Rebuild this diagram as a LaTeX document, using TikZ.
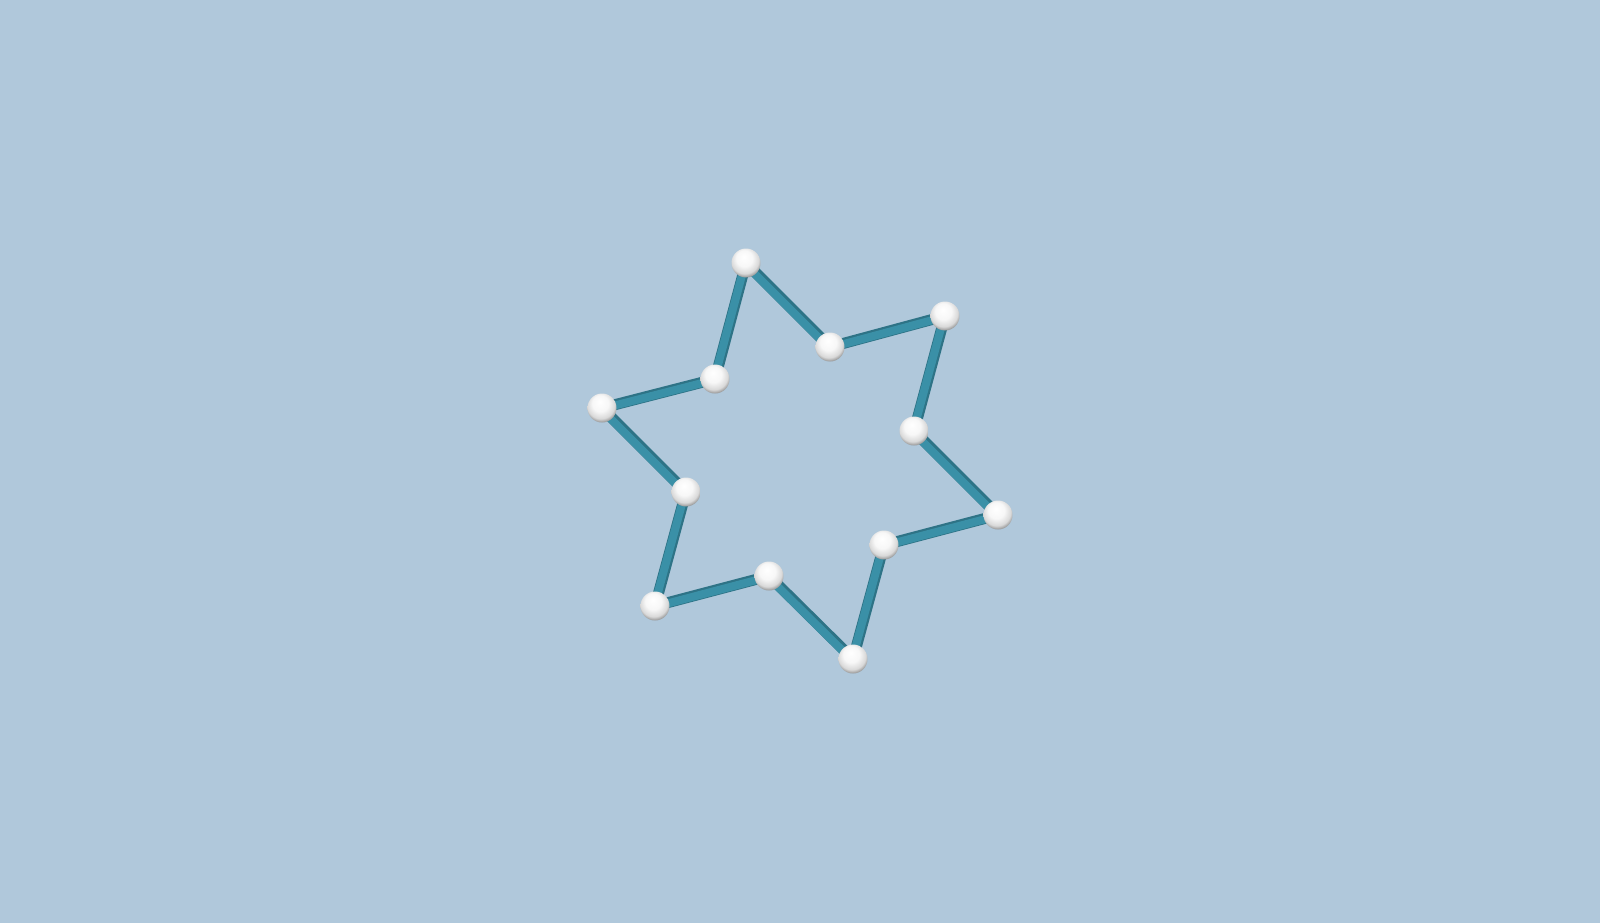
\documentclass[tikz,border=0pt]{standalone}
\usetikzlibrary{backgrounds}
\definecolor{bg}{HTML}{B0C8DB}
\definecolor{roddark}{HTML}{2E7386}
\definecolor{rodlight}{HTML}{3A90A7}
\pgfdeclareradialshading{sph}{\pgfpoint{-4bp}{11bp}}{%
  color(0bp)=(white);
  color(14bp)=(white!97!black);
  color(24bp)=(white!85!black);
  color(30bp)=(white!55!black);
  color(33bp)=(white!42!black);
  color(50bp)=(white!42!black)}
\tikzset{
  atom/.style={circle,minimum size=29pt,inner sep=0pt,shading=sph},
  rodo/.style={line width=11pt,roddark},
  rodi/.style={line width=8pt,rodlight}
}
\begin{document}
\begin{tikzpicture}[x=1pt,y=-1pt]
\useasboundingbox (0,0) rectangle (1600,923);
\node[atom] (v1) at (746,263) {};
\node[atom] (v2) at (830,347) {};
\node[atom] (v3) at (945,316) {};
\node[atom] (v4) at (914,431) {};
\node[atom] (v5) at (998,515) {};
\node[atom] (v6) at (884,545) {};
\node[atom] (v7) at (853,659) {};
\node[atom] (v8) at (769,576) {};
\node[atom] (v9) at (655,606) {};
\node[atom] (v10) at (686,492) {};
\node[atom] (v11) at (602,408) {};
\node[atom] (v12) at (715,379) {};
\begin{scope}[on background layer]
\fill[bg] (0,0) rectangle (1600,923);
\foreach \a/\b in {1/2,2/3,3/4,4/5,5/6,6/7,7/8,8/9,9/10,10/11,11/12,12/1}{
  \draw[rodo] (v\a.center) -- (v\b.center);
  \draw[rodi] ([xshift=-1pt,yshift=-1pt]v\a.center) -- ([xshift=-1pt,yshift=-1pt]v\b.center);
}
\end{scope}
\end{tikzpicture}
\end{document}
